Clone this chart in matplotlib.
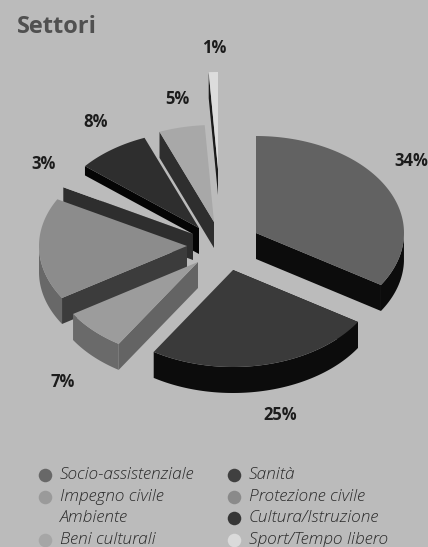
import numpy as np
import matplotlib
matplotlib.use("Agg")
import matplotlib.pyplot as plt
from matplotlib.patches import Polygon

# sectors, clockwise from 12 o'clock
settori = ["Socio-assistenziale", "Sanità", "Impegno civile", "Protezione civile",
           "Ambiente", "Cultura/Istruzione", "Beni culturali", "Sport/Tempo libero"]
percentuali = [34, 25, 7, 17, 3, 8, 5, 1]
etichette = ["34%", "25%", "7%", "3%", "8%", "5%", "1%"]

BG = "#bbbbbb"
RX, RY, DEPTH = 148, 97, 26

# exploded centre of every slice, in pixels
centri = [(256, 233), (233, 270), (198, 262), (187, 246),
          (193, 234), (199, 228), (214, 222), (218, 169)]
top_col = ["#626262", "#3a3a3a", "#9c9c9c", "#8c8c8c", BG, "#2e2e2e", "#a8a8a8", "#dcdcdc"]
arc_col = ["#0c0c0c", "#0c0c0c", "#6a6a6a", "#686868", BG, "#000000", "#2e2e2e", "#1a1a1a"]
edge_col = ["#0c0c0c", "#0c0c0c", "#646464", "#3c3c3c", "#2e2e2e", "#050505", "#2e2e2e", "#1a1a1a"]
# back to front
ordine = [7, 6, 5, 4, 3, 2, 0, 1]

fig = plt.figure(figsize=(4.28, 5.47), dpi=100, facecolor=BG)
ax = fig.add_axes([0, 0, 1, 1])
ax.set_xlim(0, 428)
ax.set_ylim(547, 0)
ax.axis("off")

fine = 90 - np.cumsum(percentuali) * 3.6
inizio = fine + np.array(percentuali) * 3.6


def punto(c, ang):
    a = np.radians(ang)
    return c[0] + RX * np.cos(a), c[1] - RY * np.sin(a)


for i in ordine:
    c = centri[i]
    a0, a1 = inizio[i], fine[i]
    ang = np.linspace(a0, a1, 80)
    xs, ys = punto(c, ang)

    # radial face that looks towards the viewer
    a_edge = a1 if np.cos(np.radians(a0)) > 0 and a0 == 90 else a0
    ex, ey = punto(c, a_edge)
    ax.add_patch(Polygon([(c[0], c[1]), (ex, ey), (ex, ey + DEPTH), (c[0], c[1] + DEPTH)],
                         fc=edge_col[i], ec="none", zorder=1))

    # outer rim, only the lower half of the ellipse shows
    mask = np.sin(np.radians(ang)) < 0
    if mask.any() and top_col[i] != BG:
        rx, ry = xs[mask], ys[mask]
        rim = list(zip(rx, ry)) + list(zip(rx[::-1], ry[::-1] + DEPTH))
        ax.add_patch(Polygon(rim, fc=arc_col[i], ec="none", zorder=1))

    ax.add_patch(Polygon([c] + list(zip(xs, ys)), fc=top_col[i], ec="none", zorder=1))

# percent labels
pos_etichette = [(411, 161), (280, 415), (63, 382), (44, 164), (96, 122), (177, 99), (214, 48)]
for t, (x, y) in zip(etichette, pos_etichette):
    ax.text(x, y, t, fontsize=12, fontweight="bold", family="Open Sans",
            color="#1c1c1c", ha="center", va="center")

ax.text(17, 27, "Settori", fontsize=17, fontweight="bold", family="Open Sans",
        color="#505050", ha="left", va="center")

# legend, drawn by hand because of the marker-less Ambiente row
leg_col = ["#686868", "#404040", "#9a9a9a", "#8a8a8a", None, "#363636", "#a6a6a6", "#dadada"]
leg_y = [475, 475, 497, 497, 518, 518, 540, 540]
leg_x = [45, 234] * 4
for nome, col, x, y in zip(settori, leg_col, leg_x, leg_y):
    if col:
        ax.scatter([x], [y], s=95, color=col, linewidths=0, zorder=3)
    ax.text(x + 15, y, nome, fontsize=12.4, style="italic", fontweight="light", family="Open Sans",
            color="#2a2a2a", ha="left", va="center")

fig.savefig("out.png", dpi=100, facecolor=BG)
